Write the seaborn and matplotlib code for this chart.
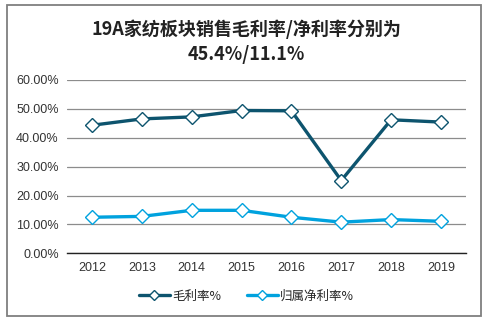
import matplotlib
matplotlib.use("Agg")
import matplotlib.pyplot as plt
import matplotlib.patches as mpatches
import seaborn as sns
import pandas as pd

years = ["2012", "2013", "2014", "2015", "2016", "2017", "2018", "2019"]
gross_margin = [44.3, 46.5, 47.2, 49.4, 49.3, 25.2, 46.2, 45.4]
net_margin = [12.5, 12.8, 14.9, 14.9, 12.5, 10.8, 11.7, 11.1]
series_names = ["毛利率%", "归属净利率%"]
title = "19A家纺板块销售毛利率/净利率分别为\n45.4%/11.1%"

sns.set_theme(style="white")
plt.rcParams["font.family"] = ["Noto Sans CJK SC", "DejaVu Sans"]

df = pd.DataFrame({
    "year": years * 2,
    "value": gross_margin + net_margin,
    "series": [series_names[0]] * len(years) + [series_names[1]] * len(years),
})
palette = {series_names[0]: "#0D546E", series_names[1]: "#00A2DE"}

fig = plt.figure(figsize=(4.93, 3.22), dpi=100)
ax = fig.add_axes([0.136, 0.213, 0.809, 0.539])

sns.lineplot(data=df, x="year", y="value", hue="series", palette=palette,
             marker="D", markersize=7, markerfacecolor="white",
             markeredgewidth=1.0, linewidth=2.4, sort=False, ax=ax, legend=False)
for line, name in zip(ax.get_lines(), series_names):
    line.set_markeredgecolor(palette[name])

ax.set_ylim(0, 60)
ax.set_xlim(-0.5, len(years) - 0.5)
ax.set_yticks(range(0, 61, 10))
ax.set_yticklabels([f"{v:.2f}%" for v in range(0, 61, 10)],
                   family=["Liberation Sans", "DejaVu Sans"])
ax.set_xticks(range(len(years)))
ax.set_xticklabels(years, family=["Liberation Sans", "DejaVu Sans"])
ax.tick_params(axis="both", labelsize=9, colors="#333333", length=0, pad=6)
ax.set_xlabel("")
ax.set_ylabel("")
ax.grid(axis="y", color="#8c8c8c", linewidth=0.9)
ax.set_axisbelow(True)
for side in ["left", "right", "top"]:
    ax.spines[side].set_visible(False)
ax.spines["bottom"].set_color("#222222")
ax.spines["bottom"].set_linewidth(1.0)

fig.text(0.5, 0.872, title, ha="center", va="center", fontsize=13,
         fontweight="bold", color="#222222", linespacing=1.4)

handles = [plt.Line2D([], [], color=palette[n], marker="D", markersize=5,
                      markerfacecolor="white", markeredgecolor=palette[n],
                      linewidth=2.4, label=n) for n in series_names]
fig.legend(handles=handles, loc="center", bbox_to_anchor=(0.5, 0.08), ncol=2,
           frameon=False, fontsize=9, handlelength=2.5, handletextpad=0.2,
           columnspacing=2.0)

fig.patches.append(mpatches.Rectangle((7 / 493, 1 - 315.5 / 322),
                                      (480.5 - 7) / 493, (315.5 - 5) / 322,
                                      transform=fig.transFigure, fill=False,
                                      edgecolor="#7f7f7f", linewidth=1.3))

fig.savefig("out.png", dpi=100)
